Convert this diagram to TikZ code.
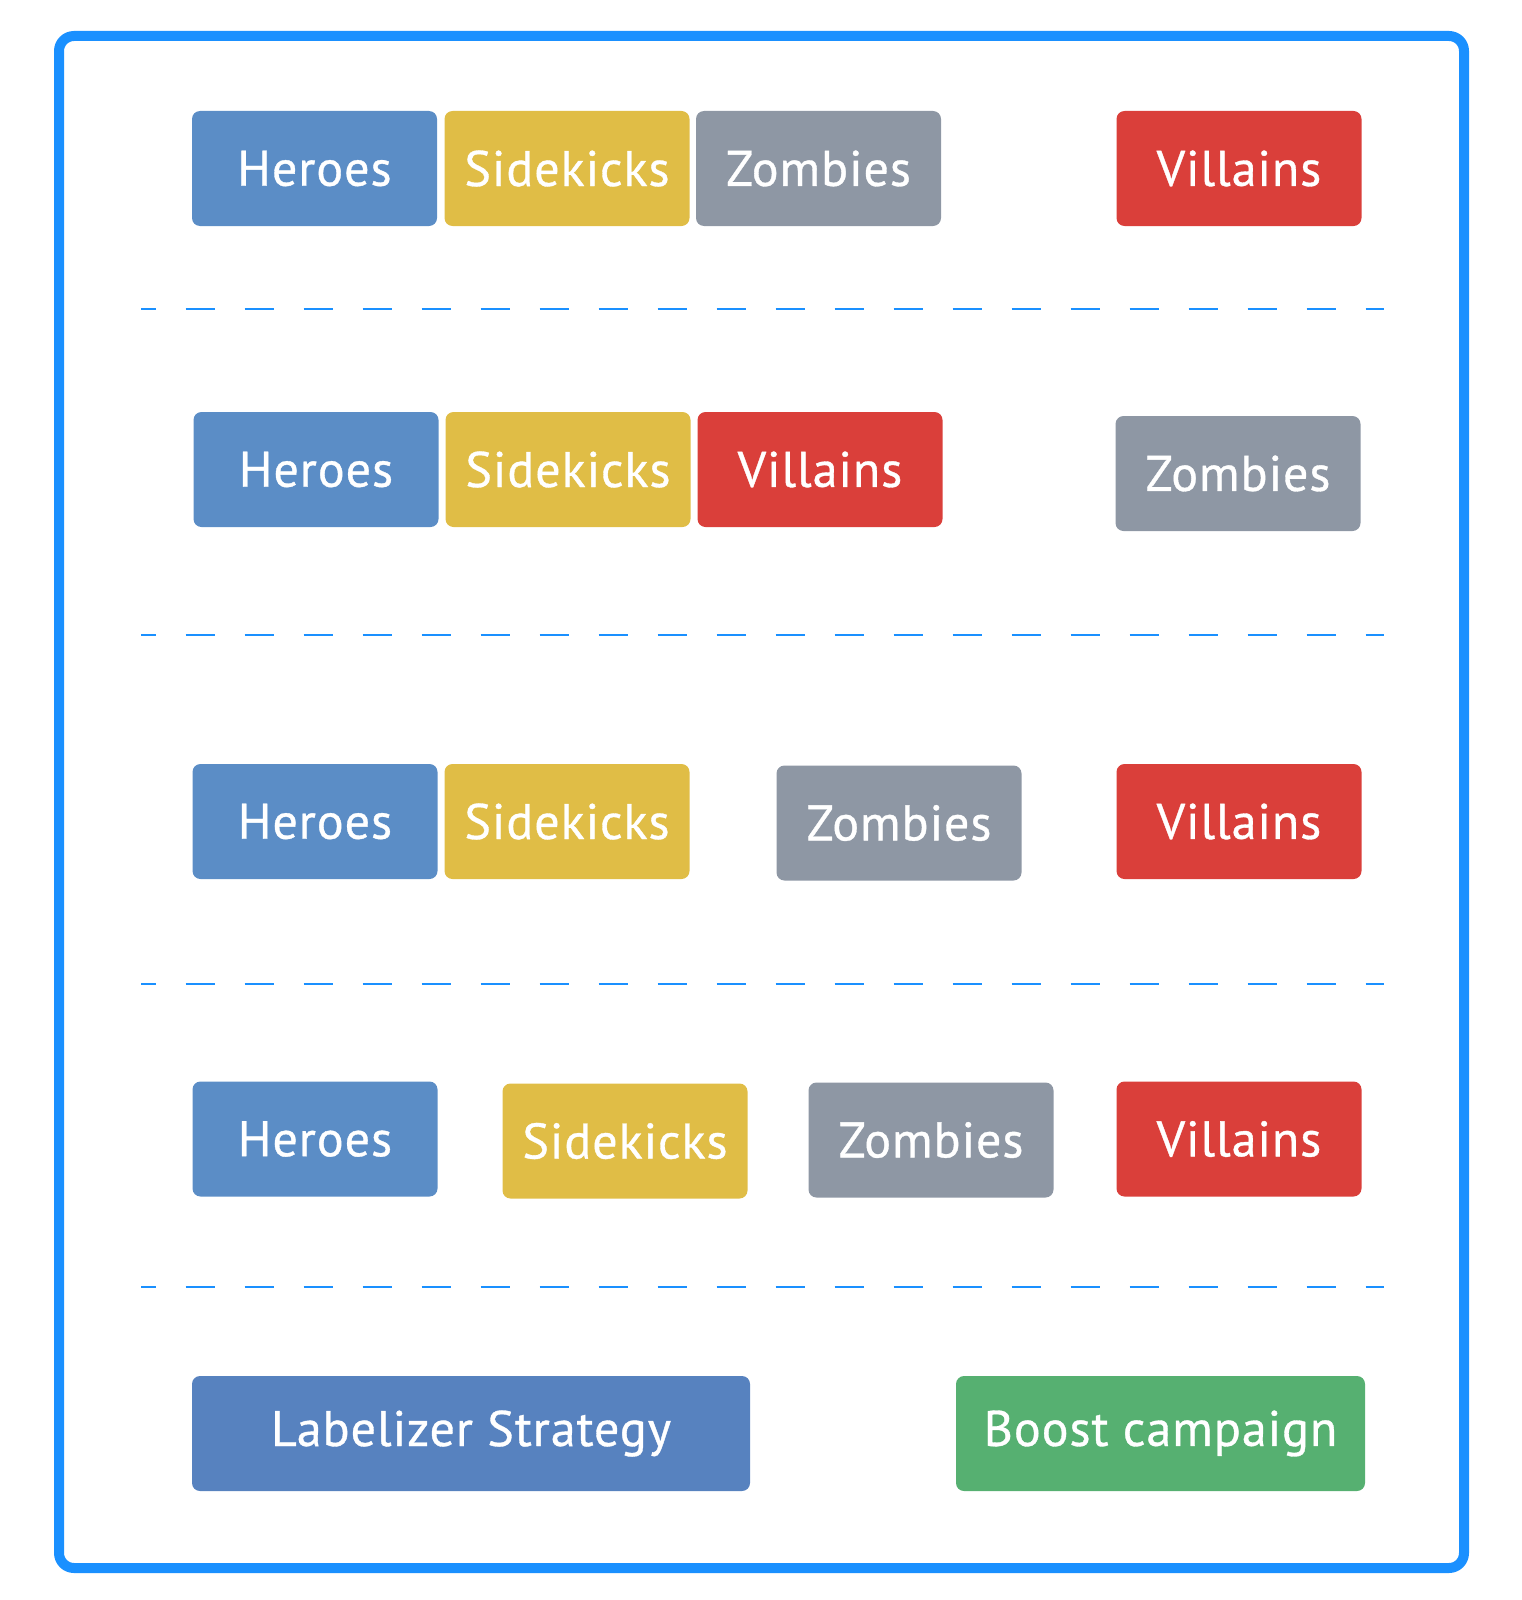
\documentclass[tikz,border=0pt]{standalone}
\usepackage{fontspec}
\setmainfont{PT Sans}
\newfontfamily\tagfont[FakeBold=0.7,LetterSpace=2]{PT Sans}
\definecolor{frameblue}{HTML}{1A90FF}
\definecolor{heroblue}{HTML}{5B8DC6}
\definecolor{stratblue}{HTML}{5782BF}
\definecolor{sideyellow}{HTML}{E0BD46}
\definecolor{zombiegray}{HTML}{8E97A4}
\definecolor{villainred}{HTML}{DA3F3A}
\definecolor{boostgreen}{HTML}{56B071}
\tikzset{
  tag/.style={rounded corners=4pt,text=white,minimum width=122.5pt,minimum height=57.5pt,
    inner sep=0pt,font=\tagfont\fontsize{25}{30}\selectfont},
  herotag/.style={tag,fill=heroblue},
  sidetag/.style={tag,fill=sideyellow},
  zombietag/.style={tag,fill=zombiegray},
  villaintag/.style={tag,fill=villainred},
  sepline/.style={frameblue,line width=1pt,dash pattern=on 14.5pt off 15pt,dash phase=7.25pt},
}

\begin{document}
\begin{tikzpicture}[x=0.5pt,y=-0.5pt]
\useasboundingbox (0,0) rectangle (1521,1600);

% === Outer frame ===
\draw[frameblue,line width=5pt,rounded corners=7.5pt] (59,36) rectangle (1464,1568);

% === Row 1 ===
\node[herotag] (h1) at (314.5,168.5) {Heroes};
\node[sidetag] (s1) at (567,168.5) {Sidekicks};
\node[zombietag] (z1) at (818.5,168.5) {Zombies};
\node[villaintag] (v1) at (1239,168.5) {Villains};

\draw[sepline] (141,309) -- (1384,309);

% === Row 2 ===
\node[herotag] (h2) at (316,469.5) {Heroes};
\node[sidetag] (s2) at (568,469.5) {Sidekicks};
\node[villaintag] (v2) at (820,469.5) {Villains};
\node[zombietag] (z2) at (1238,473.5) {Zombies};

\draw[sepline] (141,634.5) -- (1384,634.5);

% === Row 3 ===
\node[herotag] (h3) at (315,821.5) {Heroes};
\node[sidetag] (s3) at (567,821.5) {Sidekicks};
\node[zombietag] (z3) at (899,823) {Zombies};
\node[villaintag] (v3) at (1239,821.5) {Villains};

\draw[sepline] (141,984) -- (1384,984);

% === Row 4 ===
\node[herotag] (h4) at (315,1139) {Heroes};
\node[sidetag] (s4) at (625,1141) {Sidekicks};
\node[zombietag] (z4) at (931,1140) {Zombies};
\node[villaintag] (v4) at (1239,1139) {Villains};

\draw[sepline] (141,1287) -- (1384,1287);

% === Row 5: outcomes ===
\node[tag,fill=stratblue,minimum width=279pt] (strategy) at (471,1433.5) {Labelizer Strategy};
\node[tag,fill=boostgreen,minimum width=204.5pt] (boost) at (1160.5,1433.5) {Boost campaign};

\end{tikzpicture}
\end{document}
